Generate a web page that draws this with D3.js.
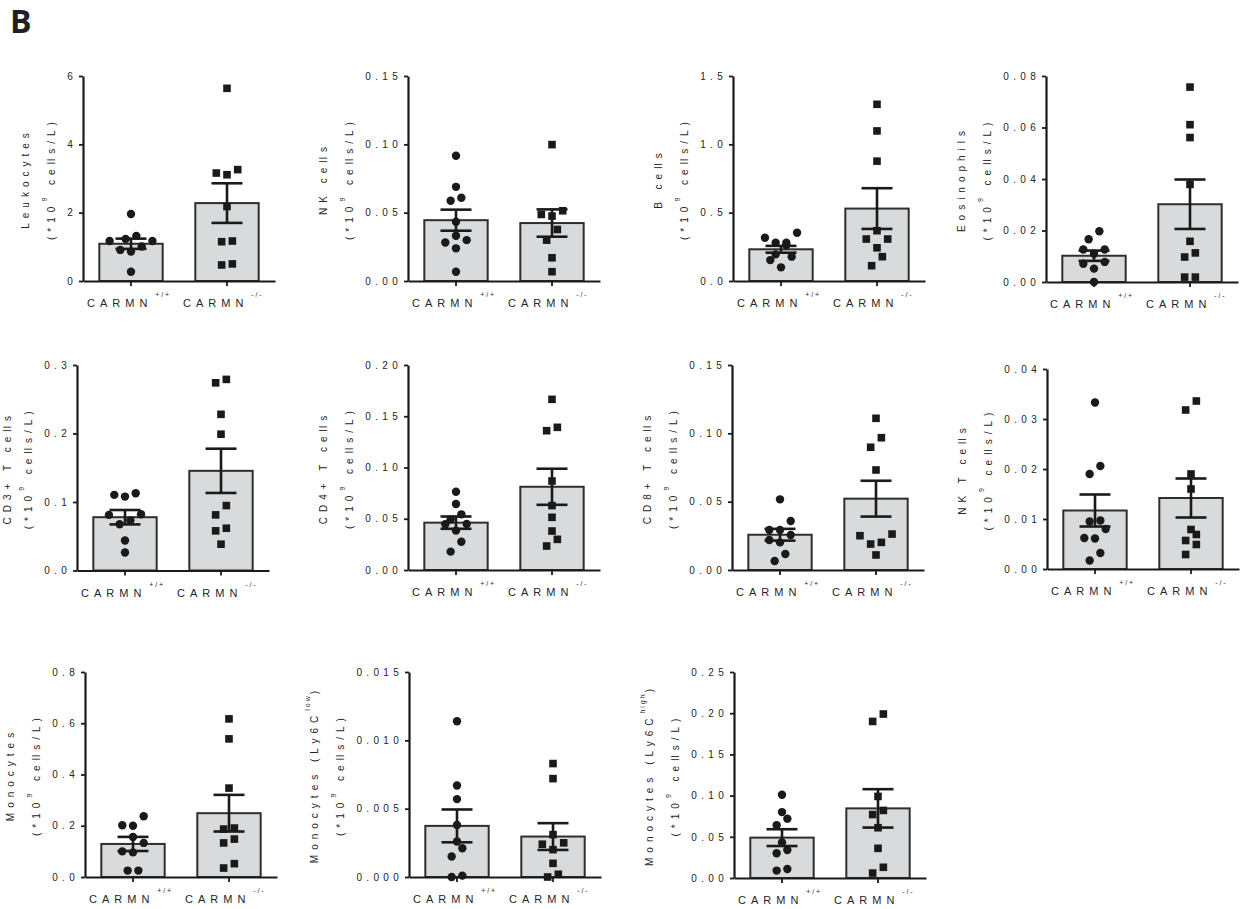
<!DOCTYPE html>
<html>
<head>
<meta charset="utf-8">
<script src="https://cdn.jsdelivr.net/npm/d3@7"></script>
<style>
  body { margin: 0; background: #fff; }
  svg { display: block; font-family: "Liberation Sans", Arial, sans-serif; }
</style>
</head>
<body>
<svg id="chart" width="1243" height="909"></svg>
<script>
// ---- data ----
const genotypes = ["+/+", "-/-"];
const groupLabel = "CARMN";
const cellTypes = ["Leukocytes", "NK cells", "B cells", "Eosinophils",
  "CD3+ T cells", "CD4+ T cells", "CD8+ T cells", "NK T cells",
  "Monocytes", "Monocytes (Ly6C", "Monocytes (Ly6C"];
const cellTypeSup = ["", "", "", "", "", "", "", "", "", "low", "high"];
const unitLabel = ["(*10", "9", " cells/L)"];

const yMax = [6, 0.15, 1.5, 0.08, 0.3, 0.2, 0.15, 0.04, 0.8, 0.015, 0.25];
const yTicks = [
  [0, 2, 4, 6],
  [0, 0.05, 0.10, 0.15],
  [0, 0.5, 1.0, 1.5],
  [0, 0.02, 0.04, 0.06, 0.08],
  [0, 0.1, 0.2, 0.3],
  [0, 0.05, 0.10, 0.15, 0.20],
  [0, 0.05, 0.10, 0.15],
  [0, 0.01, 0.02, 0.03, 0.04],
  [0, 0.2, 0.4, 0.6, 0.8],
  [0, 0.005, 0.010, 0.015],
  [0, 0.05, 0.10, 0.15, 0.20, 0.25]
];
const tickDecimals = [0, 2, 1, 2, 1, 2, 2, 2, 1, 3, 2];

// individual animals, CARMN +/+
const wtValues = [
  [1.96, 1.17, 1.23, 1.32, 1.17, 0.91, 1.01, 0.86, 0.27],
  [0.0916, 0.0689, 0.0609, 0.0587, 0.0433, 0.0331, 0.0282, 0.0299, 0.0239, 0.0068],
  [0.353, 0.317, 0.280, 0.261, 0.280, 0.178, 0.153, 0.195, 0.100],
  [0.0197, 0.0166, 0.0126, 0.0126, 0.0110, 0.0078, 0.0071, 0.0052, 0.0],
  [0.1128, 0.1079, 0.1104, 0.0822, 0.0812, 0.0729, 0.0676, 0.0438, 0.0263],
  [0.0764, 0.0644, 0.0543, 0.0494, 0.0446, 0.0449, 0.0384, 0.0276, 0.0179],
  [0.0517, 0.0359, 0.0293, 0.0293, 0.0256, 0.0220, 0.0202, 0.0117, 0.0066],
  [0.0333, 0.0206, 0.0190, 0.0097, 0.0095, 0.0080, 0.0062, 0.0061, 0.0032, 0.0017],
  [0.237, 0.202, 0.200, 0.156, 0.133, 0.100, 0.096, 0.025, 0.025],
  [0.0114, 0.0067, 0.0057, 0.0038, 0.0026, 0.0021, 0.0015, 0.0, 0.0001],
  [0.101, 0.080, 0.072, 0.064, 0.043, 0.034, 0.030, 0.011, 0.009]
];
// individual animals, CARMN -/-
const koValues = [
  [5.64, 3.16, 3.11, 3.26, 2.18, 1.17, 1.15, 0.47, 0.50],
  [0.0998, 0.0487, 0.0475, 0.0514, 0.0377, 0.0299, 0.0170, 0.0068],
  [1.293, 1.098, 0.877, 0.368, 0.307, 0.307, 0.243, 0.178, 0.112],
  [0.0757, 0.0611, 0.0561, 0.0379, 0.0158, 0.0113, 0.0097, 0.0019, 0.0019],
  [0.279, 0.274, 0.228, 0.199, 0.0948, 0.0812, 0.0617, 0.0579, 0.0384],
  [0.1665, 0.1359, 0.1392, 0.0868, 0.0628, 0.0514, 0.0380, 0.0299, 0.0234],
  [0.1110, 0.0968, 0.0898, 0.0732, 0.0251, 0.0202, 0.0190, 0.0263, 0.0110],
  [0.0336, 0.0318, 0.0190, 0.0160, 0.0079, 0.0069, 0.0057, 0.0049, 0.0029],
  [0.617, 0.539, 0.347, 0.187, 0.191, 0.148, 0.133, 0.052, 0.035],
  [0.0083, 0.0072, 0.0031, 0.0025, 0.0024, 0.0020, 0.0010, 0.0002, 0.0],
  [0.199, 0.190, 0.099, 0.082, 0.077, 0.061, 0.036, 0.013, 0.006]
];

// group mean and SEM
const wtMean = [1.09, 0.0445, 0.232, 0.0102, 0.0778, 0.0462, 0.0258, 0.0117, 0.129, 0.00374, 0.0490];
const wtSem  = [0.15, 0.0077, 0.025, 0.0020, 0.0105, 0.0060, 0.0043, 0.0032, 0.0275, 0.00120, 0.0102];
const koMean = [2.28, 0.0424, 0.530, 0.0302, 0.1455, 0.0812, 0.0522, 0.0142, 0.249, 0.00296, 0.0845];
const koSem  = [0.58, 0.0100, 0.149, 0.0096, 0.0323, 0.0176, 0.0131, 0.0039, 0.0715, 0.00098, 0.0233];

// ---- layout: axis origin x, top of y axis, zero line ----
const panelOrigin = [
  [83, 76, 281], [408, 76, 281], [733, 76, 281], [1046, 76, 282],
  [77, 365, 570.5], [408, 365, 570], [732, 365, 570], [1047, 369, 569],
  [85, 672, 877], [409, 672, 877], [734, 672, 878]
];
const plotWidth = 192;
const ink = "#1a1a1a";
const textInk = "#262626";
const barFill = "#d9dadb";
const circleRadius = 4.2;
const squareSize = 7.6;
const swarmStep = 10.7;
const capWidth = 31;
const titleSpacing = 5;

const svg = d3.select("#chart");

svg.append("text")
  .attr("x", 10).attr("y", 33)
  .style("font-family", "'Open Sans', 'Liberation Sans', sans-serif")
  .style("font-weight", 700).style("font-size", "32px")
  .attr("fill", "#231f20")
  .text("B");

// Spaced-out text where a double "l" stays tight, as in the axis titles.
function appendSpaced(textSel, str, spacing) {
  const runs = [];
  for (let k = 0; k < str.length; k++) {
    const tight = str[k] === "l" && str[k + 1] === "l";
    const ls = tight ? 1.2 : spacing;
    const last = runs[runs.length - 1];
    if (last && last.ls === ls) last.s += str[k];
    else runs.push({ s: str[k], ls });
  }
  return runs.map(r => textSel.append("tspan").style("letter-spacing", r.ls + "px").text(r.s));
}

// Prism-style scatter: points whose heights are close share a row,
// rows are spread symmetrically around the column centre.
function swarm(values, y, step) {
  const pts = values.map(v => ({ v, py: y(v) })).sort((a, b) => b.py - a.py);
  const rows = [];
  let cur = null;
  pts.forEach(p => {
    if (cur && cur[0].py - p.py < step) cur.push(p);
    else { cur = [p]; rows.push(cur); }
  });
  rows.forEach(r => {
    const n = r.length;
    r.forEach((p, k) => {
      let slot;
      if (n % 2) slot = k === 0 ? 0 : (k % 2 ? -Math.ceil(k / 2) : Math.ceil(k / 2));
      else { const m = Math.floor(k / 2) + 0.5; slot = k % 2 ? m : -m; }
      p.dx = slot * step;
    });
  });
  return pts;
}

cellTypes.forEach((name, i) => {
  const [ox, top, zero] = panelOrigin[i];
  const h = zero - top;
  const g = svg.append("g").attr("transform", `translate(${ox},${top})`);

  const y = d3.scaleLinear().domain([0, yMax[i]]).range([h, 0]);
  const x = d3.scaleBand().domain(genotypes).range([0, plotWidth])
    .paddingInner(0.34).paddingOuter(0.17);
  const bw = x.bandwidth();
  const means = [wtMean[i], koMean[i]];
  const sems = [wtSem[i], koSem[i]];
  const vals = [wtValues[i], koValues[i]];

  // bars
  g.selectAll("rect.bar").data(genotypes).join("rect")
    .attr("class", "bar")
    .attr("x", d => x(d))
    .attr("y", (d, j) => y(means[j]))
    .attr("width", bw)
    .attr("height", (d, j) => h - y(means[j]))
    .attr("fill", barFill)
    .attr("stroke", "#2e2e2e")
    .attr("stroke-width", 2);

  // y axis
  const ya = g.append("g")
    .style("color", ink)
    .call(d3.axisLeft(y).tickValues(yTicks[i]).tickSize(4).tickSizeOuter(0)
      .tickPadding(2).tickFormat(d3.format(`.${tickDecimals[i]}f`)));
  ya.select(".domain").attr("stroke-width", 2.2);
  ya.selectAll(".tick line").attr("stroke-width", 1.8);
  ya.selectAll(".tick text")
    .attr("fill", textInk)
    .style("font-size", "10px")
    .style("letter-spacing", "4.3px");

  // x axis
  const xa = g.append("g").attr("transform", `translate(0,${h})`)
    .style("color", ink)
    .call(d3.axisBottom(x).tickSize(5).tickSizeOuter(0).tickFormat(""));
  xa.select(".domain").attr("stroke-width", 2.2);
  xa.selectAll(".tick line").attr("stroke-width", 1.8);

  // group labels
  genotypes.forEach((gt, j) => {
    const t = g.append("text")
      .attr("x", x(gt) + bw / 2 - 44)
      .attr("y", h + 26)
      .attr("fill", textInk)
      .style("font-size", "11px");
    t.append("tspan").style("letter-spacing", "5px").text(groupLabel);
    t.append("tspan").attr("dx", 3).attr("dy", -10)
      .style("font-size", "7px").style("letter-spacing", "1.8px").text(gt);
  });

  // individual points
  genotypes.forEach((gt, j) => {
    const cx = x(gt) + bw / 2;
    const pts = swarm(vals[j], y, swarmStep);
    if (j === 0) {
      g.selectAll(null).data(pts).join("circle")
        .attr("cx", p => cx + p.dx).attr("cy", p => p.py)
        .attr("r", circleRadius).attr("fill", ink);
    } else {
      g.selectAll(null).data(pts).join("rect")
        .attr("x", p => cx + p.dx - squareSize / 2)
        .attr("y", p => p.py - squareSize / 2)
        .attr("width", squareSize).attr("height", squareSize)
        .attr("fill", ink);
    }
  });

  // mean ± SEM
  genotypes.forEach((gt, j) => {
    const cx = x(gt) + bw / 2;
    const lo = y(means[j] - sems[j]);
    const hi = y(means[j] + sems[j]);
    const eb = g.append("g").attr("stroke", ink).attr("stroke-width", 2.6);
    eb.append("line").attr("x1", cx).attr("x2", cx).attr("y1", lo).attr("y2", hi);
    [lo, hi].forEach(yy => eb.append("line")
      .attr("x1", cx - capWidth / 2).attr("x2", cx + capWidth / 2)
      .attr("y1", yy).attr("y2", yy));
  });

  // y title, two rotated lines left of the tick labels
  const tickLeft = ya.node().getBBox().x;
  const line2x = tickLeft - 16;
  const line1x = Math.max(line2x - 26, 7 - ox);
  const cy = h / 2;

  const t1 = g.append("text")
    .attr("transform", `translate(${line1x},${cy}) rotate(-90)`)
    .attr("text-anchor", "middle")
    .attr("dominant-baseline", "central")
    .attr("fill", textInk)
    .style("font-size", "10px");
  appendSpaced(t1, name, titleSpacing);
  if (cellTypeSup[i]) {
    t1.append("tspan").attr("dy", -7).style("font-size", "7px")
      .style("letter-spacing", "2px").text(cellTypeSup[i]);
    t1.append("tspan").attr("dy", 7).style("letter-spacing", titleSpacing + "px").text(")");
  }

  const t2 = g.append("text")
    .attr("transform", `translate(${line2x},${cy}) rotate(-90)`)
    .attr("text-anchor", "middle")
    .attr("dominant-baseline", "central")
    .attr("fill", textInk)
    .style("font-size", "10px");
  appendSpaced(t2, unitLabel[0], titleSpacing);
  t2.append("tspan").attr("dy", -7).style("font-size", "7px")
    .style("letter-spacing", titleSpacing + "px").text(unitLabel[1]);
  const rest = appendSpaced(t2, unitLabel[2], titleSpacing);
  rest[0].attr("dy", 7);
});
</script>
</body>
</html>
